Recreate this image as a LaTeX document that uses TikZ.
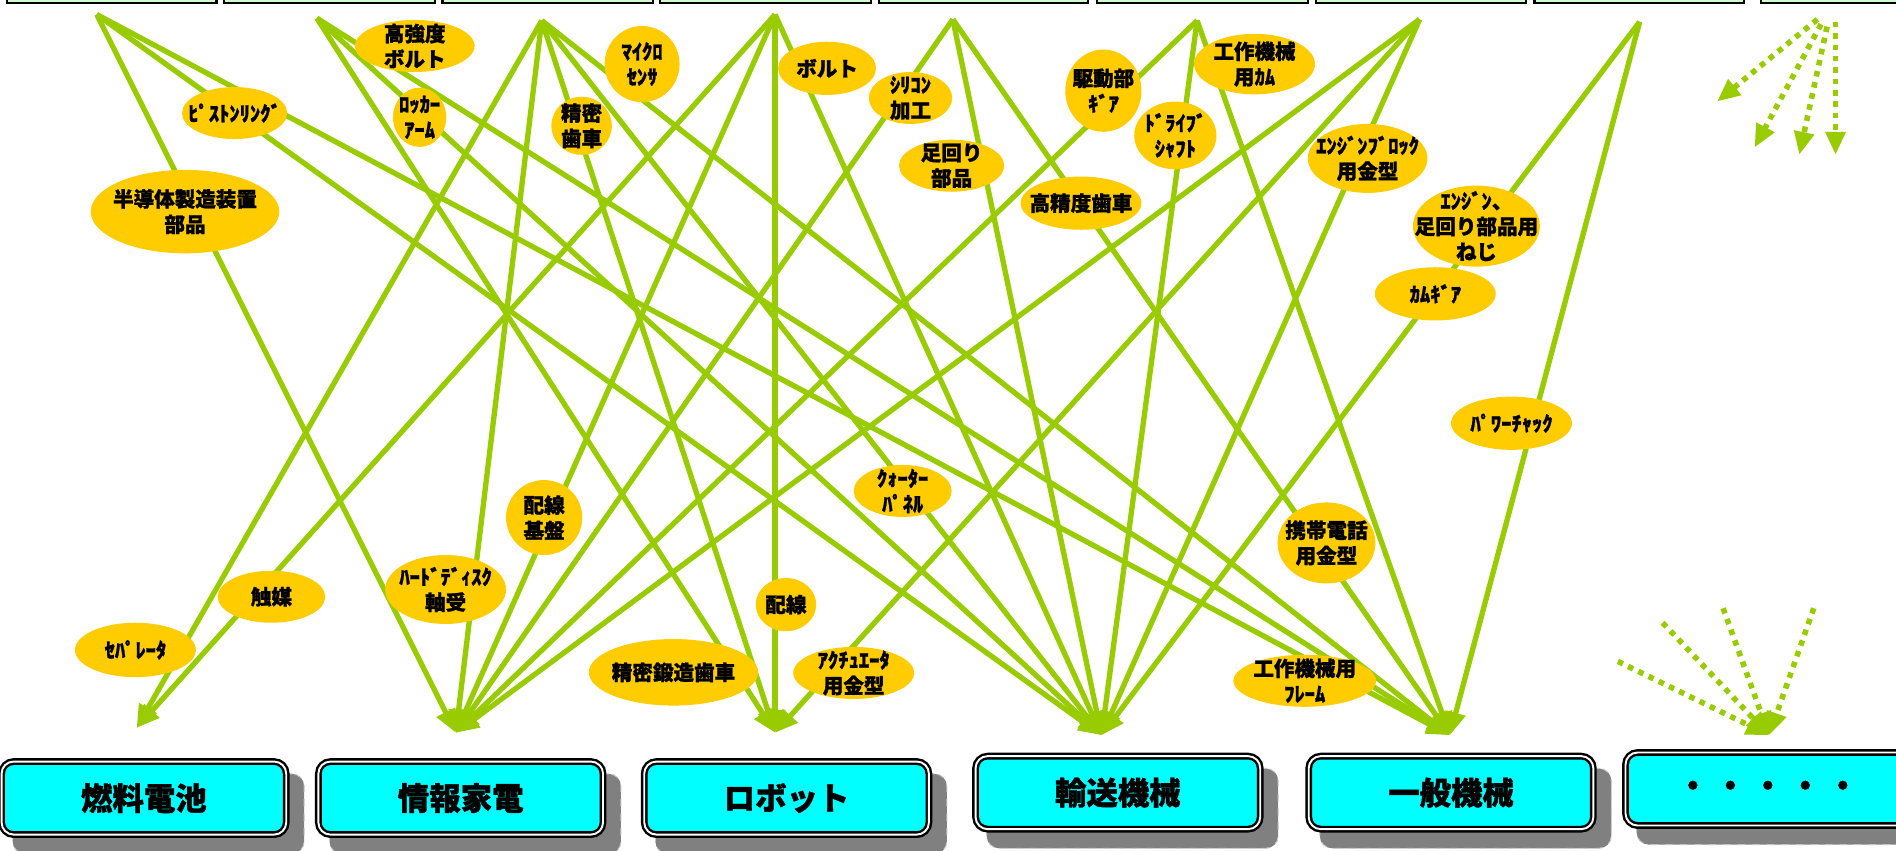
\documentclass[tikz,border=0pt]{standalone}
\usepackage{fontspec}
\setmainfont{Noto Sans CJK JP}[BoldFeatures={FakeBold=1.2}]
\usetikzlibrary{shapes.geometric,arrows.meta}
\definecolor{lgreen}{HTML}{99CC00}
\definecolor{gold}{HTML}{FFCC00}
\definecolor{topfill}{HTML}{CCFFCC}
\definecolor{boxcyan}{HTML}{00FFFF}
\definecolor{shadowgray}{HTML}{808080}
\begin{document}
\begin{tikzpicture}[x=0.5pt,y=-0.5pt,
  link/.style={draw=lgreen, line width=2.2pt, -{Triangle[length=9.5pt,width=8pt]}},
  dotlink/.style={draw=lgreen, line width=2.3pt, dash pattern=on 2.3pt off 2.4pt, -{Triangle[length=9.5pt,width=8pt]}},
  oval/.style={shape=ellipse, fill=gold, draw=none, inner sep=0pt},
  lab/.style={font=\bfseries\fontsize{8.5}{10.5}\selectfont, align=center, inner sep=0pt, text=black},
  topbox/.style={draw=black, line width=0.9pt, fill=topfill},
  cat/.style={draw=black, double=white, double distance=0.8pt, line width=1pt, fill=boxcyan,
    rounded corners=5pt, minimum width=117.7pt, minimum height=30.2pt, inner sep=0pt,
    font=\bfseries\fontsize{13}{15}\selectfont},
  shadowbox/.style={fill=shadowgray, draw=gray!45, dashed, line width=0.4pt, rounded corners=5pt,
    minimum width=120.5pt, minimum height=33pt, inner sep=0pt}
]
\useasboundingbox (0,0) rectangle (1568,703);
\clip (0,0) rectangle (1568,703);
\fill[white] (0,0) rectangle (1568,703);

% top boxes (only their lower edges are visible)
\foreach \a/\b in {6/179,185/360,366/540,546/720,727/900,907/1082,1088/1262,1269/1442,1456/1620}
  \draw[topbox] (\a,-20) rectangle (\b,2.5);

% sources and targets
\coordinate (sA) at (80,12);
\coordinate (sB) at (262,15);
\coordinate (sC) at (448,17);
\coordinate (sD) at (641,12);
\coordinate (sE) at (788,16);
\coordinate (sF) at (990,17);
\coordinate (sG) at (1174,16);
\coordinate (sH) at (1356,18);
\coordinate (t1) at (113,602);
\coordinate (t2) at (377,606);
\coordinate (t3) at (641,606);
\coordinate (t4) at (911,608);
\coordinate (t5) at (1199,608);
\coordinate (t6) at (1463,608);

% connectors
\foreach \s/\t in {sA/t2,sA/t4,sA/t5,
                   sB/t3,sB/t4,sB/t5,
                   sC/t1,sC/t2,sC/t3,sC/t4,sC/t5,
                   sD/t1,sD/t2,sD/t3,sD/t4,
                   sE/t2,sE/t4,sE/t5,
                   sF/t2,sF/t4,sF/t5,
                   sG/t2,sG/t3,sG/t4,
                   sH/t4,sH/t5}
  \draw[link] (\s) -- (\t);

% dotted arrows, top right
\coordinate (p1) at (1503,16); \coordinate (q1) at (1420,84);
\coordinate (p2) at (1506,20); \coordinate (q2) at (1451,122);
\coordinate (p3) at (1511,22); \coordinate (q3) at (1488,128);
\coordinate (p4) at (1518,18); \coordinate (q4) at (1518,128);
\draw[dotlink] (p1) -- (q1);
\draw[dotlink] (p2) -- (q2);
\draw[dotlink] (p3) -- (q3);
\draw[dotlink] (p4) -- (q4);
% dotted arrows, bottom right
\coordinate (r1) at (1338,547);
\coordinate (r2) at (1375,515);
\coordinate (r3) at (1425,503);
\coordinate (r4) at (1500,503);
\draw[dotlink] (r1) -- (t6);
\draw[dotlink] (r2) -- (t6);
\draw[dotlink] (r3) -- (t6);
\draw[dotlink] (r4) -- (t6);

% example labels
\node[oval, minimum width=49.5pt, minimum height=21.5pt, label={[lab]center:{高強度\\ボルト}}] (o1) at (343,38) {};
\node[oval, minimum width=43.5pt, minimum height=21.5pt, label={[lab]center:{ﾋﾟｽﾄﾝﾘﾝｸﾞ}}] (o2) at (194,93.5) {};
\node[oval, minimum width=22pt, minimum height=24.5pt, label={[lab]center:{ﾛｯｶｰ\\ｱｰﾑ}}] (o3) at (347,97) {};
\node[oval, minimum width=25pt, minimum height=24pt, label={[lab]center:{精密\\歯車}}] (o4) at (481,104) {};
\node[oval, minimum width=31pt, minimum height=31.5pt, label={[lab]center:{ﾏｲｸﾛ\\ｾﾝｻ}}] (o5) at (531,53) {};
\node[oval, minimum width=40.5pt, minimum height=22pt, label={[lab]center:{ボルト}}] (o6) at (684,56.5) {};
\node[oval, minimum width=34.5pt, minimum height=21.5pt, label={[lab]center:{ｼﾘｺﾝ\\加工}}] (o7) at (753,81) {};
\node[oval, minimum width=43.5pt, minimum height=21.5pt, label={[lab]center:{足回り\\部品}}] (o8) at (787,137) {};
\node[oval, minimum width=31.5pt, minimum height=34pt, label={[lab]center:{駆動部\\ｷﾞｱ}}] (o9) at (912.5,75) {};
\node[oval, minimum width=34pt, minimum height=28pt, label={[lab]center:{ﾄﾞﾗｲﾌﾞ\\ｼｬﾌﾄ}}] (o10) at (972,112) {};
\node[oval, minimum width=50pt, minimum height=25pt, label={[lab]center:{工作機械\\用ｶﾑ}}] (o11) at (1037.5,53) {};
\node[oval, minimum width=50pt, minimum height=22pt, label={[lab]center:{高精度歯車}}] (o12) at (894,168) {};
\node[oval, minimum width=49.5pt, minimum height=28.5pt, label={[lab]center:{ｴﾝｼﾞﾝﾌﾞﾛｯｸ\\用金型}}] (o13) at (1131,131) {};
\node[oval, minimum width=52.5pt, minimum height=33.5pt, label={[lab]center:{ｴﾝｼﾞﾝ、\\足回り部品用\\ねじ}}] (o14) at (1221,187) {};
\node[oval, minimum width=50pt, minimum height=22pt, label={[lab]center:{ｶﾑｷﾞｱ}}] (o15) at (1187,243) {};
\node[oval, minimum width=78pt, minimum height=34.5pt, label={[lab]center:{半導体製造装置\\部品}}] (o16) at (153,175) {};
\node[oval, minimum width=50pt, minimum height=22pt, label={[lab]center:{ﾊﾟﾜｰﾁｬｯｸ}}] (o17) at (1250,350) {};
\node[oval, minimum width=40.5pt, minimum height=21.5pt, label={[lab]center:{ｸｫｰﾀｰ\\ﾊﾟﾈﾙ}}] (o18) at (746.5,406) {};
\node[oval, minimum width=40.5pt, minimum height=33.5pt, label={[lab]center:{携帯電話\\用金型}}] (o19) at (1097,449) {};
\node[oval, minimum width=31.5pt, minimum height=31pt, label={[lab]center:{配線\\基盤}}] (o20) at (450,428) {};
\node[oval, minimum width=44.5pt, minimum height=21.5pt, label={[lab]center:{触媒}}] (o21) at (224.5,493.5) {};
\node[oval, minimum width=50pt, minimum height=28.5pt, label={[lab]center:{ﾊｰﾄﾞﾃﾞｨｽｸ\\軸受}}] (o22) at (368.5,487.5) {};
\node[oval, minimum width=50pt, minimum height=22.5pt, label={[lab]center:{ｾﾊﾟﾚｰﾀ}}] (o23) at (112,537.5) {};
\node[oval, minimum width=25pt, minimum height=22pt, label={[lab]center:{配線}}] (o24) at (650,500) {};
\node[oval, minimum width=70pt, minimum height=27.5pt, label={[lab]center:{精密鍛造歯車}}] (o25) at (557,556) {};
\node[oval, minimum width=50pt, minimum height=21.5pt, label={[lab]center:{ｱｸﾁｭｴｰﾀ\\用金型}}] (o26) at (706,556.5) {};
\node[oval, minimum width=59pt, minimum height=21.5pt, label={[lab]center:{工作機械用\\ﾌﾚｰﾑ}}] (o27) at (1079,563) {};

% industry boxes with shadows
\node[shadowbox] (sh1) at (131,673) {};
\node[shadowbox] (sh2) at (393,673) {};
\node[shadowbox] (sh3) at (662.5,673) {};
\node[shadowbox] (sh4) at (936.5,668.5) {};
\node[shadowbox] (sh5) at (1212,668.5) {};
\node[shadowbox] (sh6) at (1474,665.5) {};
\node[cat] (c1) at (119,660) {燃料電池};
\node[cat] (c2) at (381,660) {情報家電};
\node[cat] (c3) at (650.5,660) {ロボット};
\node[cat] (c4) at (924.5,655.5) {輸送機械};
\node[cat] (c5) at (1200,655.5) {一般機械};
\node[cat] (c6) at (1462,652.5) {・\kern2.5pt・\kern2.5pt・\kern2.5pt・\kern2.5pt・};
\end{tikzpicture}
\end{document}
